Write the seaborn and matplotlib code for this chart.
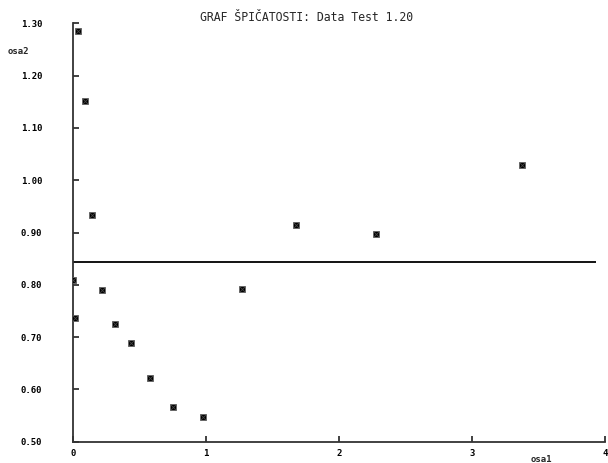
import matplotlib
matplotlib.use("Agg")
import matplotlib.pyplot as plt
import seaborn as sns
import pandas as pd

# Kurtosis graph data
osa1 = [0.042, 0.092, 0.145, 0.0, 0.015, 0.223, 0.318, 0.436, 0.581,
        0.752, 0.980, 1.273, 1.677, 2.278, 3.380]
osa2 = [1.285, 1.152, 0.934, 0.810, 0.737, 0.790, 0.726, 0.689, 0.622,
        0.566, 0.548, 0.792, 0.914, 0.897, 1.030]
reference_level = 0.843
reference_end = 3.935
x_ticks = [0, 1, 2, 3, 4]
y_ticks = [0.50, 0.60, 0.70, 0.80, 0.90, 1.00, 1.10, 1.20, 1.30]
title = "GRAF ŠPIČATOSTI: Data Test 1.20"

df = pd.DataFrame({"osa1": osa1, "osa2": osa2})

sns.set_theme(style="white")
plt.rcParams["font.family"] = ["DejaVu Sans Mono", "DejaVu Sans"]

fig = plt.figure(figsize=(6.08, 4.63), dpi=100)
ax = fig.add_axes([0.1196, 0.046, 0.875, 0.9036])

sns.scatterplot(data=df, x="osa1", y="osa2", ax=ax, marker="s", s=14,
                color="black", edgecolor="#666666", linewidth=0.6, zorder=3)
sns.scatterplot(data=df, x="osa1", y="osa2", ax=ax, marker="x", s=14,
                color="#444444", linewidth=0.6, zorder=4)
ax.hlines(reference_level, 0, reference_end, color="black", linewidth=1.3)

ax.set_xlim(0, 4)
ax.set_ylim(0.5, 1.3)
ax.set_xticks(x_ticks)
ax.set_xticklabels([str(t) for t in x_ticks])
ax.set_yticks(y_ticks)
ax.set_yticklabels([f"{t:.2f}" for t in y_ticks])
ax.set_xlabel("")
ax.set_ylabel("")

for side in ("top", "right"):
    ax.spines[side].set_visible(False)
for side in ("left", "bottom"):
    ax.spines[side].set_color("#333333")
    ax.spines[side].set_linewidth(1.3)

ax.tick_params(axis="both", direction="in", length=4, width=1.3,
               color="#333333", labelsize=6.5, labelcolor="black",
               left=True, bottom=True)
ax.tick_params(axis="y", pad=22)
ax.tick_params(axis="x", pad=5)
for lbl in ax.get_xticklabels() + ax.get_yticklabels():
    lbl.set_fontweight("bold")
ax.patch.set_alpha(0)

fig.text(0.505, 0.962, title, ha="center", va="center", fontsize=8.3)
fig.text(0.013, 0.888, "osa2", ha="left", va="center", fontsize=6.5,
         fontweight="bold")
fig.text(0.872, 0.008, "osa1", ha="left", va="center", fontsize=6.5,
         fontweight="bold")

fig.savefig("out.png", dpi=100)
